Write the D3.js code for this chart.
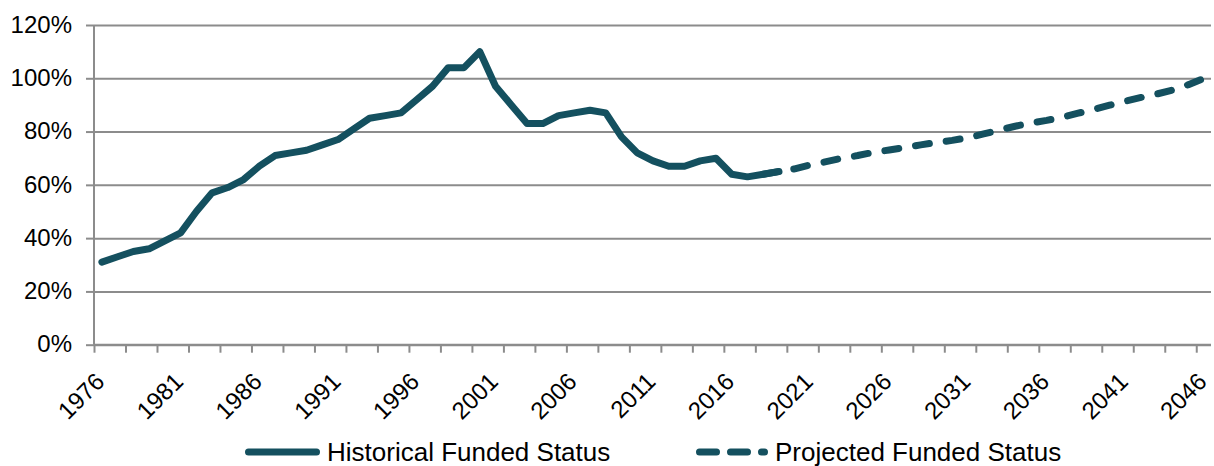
<!DOCTYPE html>
<html>
<head>
<meta charset="utf-8">
<script src="https://cdn.jsdelivr.net/npm/d3@7"></script>
<style>
  html, body { margin: 0; padding: 0; background: #fff; }
  svg { display: block; }
  text { font-family: "Liberation Sans", Arial, sans-serif; fill: #000; }
</style>
</head>
<body>
<svg id="chart" width="1214" height="466"></svg>
<script>
// ---- Data ----
const years = d3.range(1976, 2047);            // categories 1976..2046
const histYears = d3.range(1976, 2020);        // 1976..2019
const histValues = [31, 33, 35, 36, 39, 42, 50, 57, 59, 62,
                    67, 71, 72, 73, 75, 77, 81, 85, 86, 87,
                    92, 97, 104, 104, 110, 97, 90, 83, 83, 86,
                    87, 88, 87, 78, 72, 69, 67, 67, 69, 70,
                    64, 63, 64, 65];
const projYears = d3.range(2018, 2047);        // 2018..2046
const projValues = [64, 65, 66, 67.5, 68.7, 70, 71, 72.2, 73.1, 74,
                    75, 75.9, 76.7, 77.7, 79.1, 80.6, 82, 83.2, 84.2, 85.4,
                    86.9, 88.3, 89.9, 91.4, 92.8, 94.1, 95.6, 97.6, 100];
const yTicks = [0, 20, 40, 60, 80, 100, 120];
const labelYears = d3.range(1976, 2047, 5);
const seriesNames = ["Historical Funded Status", "Projected Funded Status"];

(function () {
// ---- Layout ----
const svg = d3.select("#chart");
const mLeft = 94, mRight = 1212, mTop = 25, mBottom = 344.7;
const color = "#14505f";
const gridColor = "#8c8c8c";

const x = d3.scaleBand().domain(years).range([mLeft, mRight]).padding(0);
const xc = d => x(d) + x.bandwidth() / 2;
const y = d3.scaleLinear().domain([0, 120]).range([mBottom, mTop]);
const xi = d3.scaleLinear().domain([0, years.length]).range([mLeft, mRight]);

// gridlines
const grid = svg.append("g").attr("transform", `translate(${mLeft},0)`)
  .call(d3.axisLeft(y).tickValues(yTicks).tickSize(-(mRight - 1 - mLeft)).tickFormat(""));
grid.select(".domain").remove();
grid.selectAll("line").attr("stroke", gridColor).attr("stroke-width", 2);

// y axis
const yAxis = svg.append("g").attr("transform", `translate(${mLeft},0)`)
  .call(d3.axisLeft(y).tickValues(yTicks).tickSize(8).tickPadding(14).tickFormat(d => d + "%"));
yAxis.select(".domain").attr("stroke", gridColor).attr("stroke-width", 2).attr("d", `M0,${y(120)}V${y(0)}`);
yAxis.selectAll("line").attr("stroke", gridColor).attr("stroke-width", 2);
yAxis.selectAll("text").style("font-size", "24px").attr("dy", "0.3em");

// x axis line + ticks every 2 categories
const tickIdx = d3.range(0, years.length, 2);
const xAxis = svg.append("g").attr("transform", `translate(0,${mBottom})`)
  .call(d3.axisBottom(xi).tickValues(tickIdx).tickSize(8).tickFormat(""));
xAxis.select(".domain").attr("stroke", gridColor).attr("stroke-width", 2).attr("d", `M${mLeft},0H${mRight - 1}`);
xAxis.selectAll("line").attr("stroke", gridColor).attr("stroke-width", 2);

// x labels
svg.append("g").selectAll("text").data(labelYears).join("text")
  .attr("text-anchor", "end")
  .attr("transform", d => `translate(${xc(d) + 4},${383}) rotate(-45)`)
  .style("font-size", "24px")
  .text(d => d);

// lines
const line = d3.line().x(d => xc(d[0])).y(d => y(d[1]));
svg.append("path")
  .datum(d3.zip(projYears, projValues))
  .attr("d", line).attr("fill", "none")
  .attr("stroke", color).attr("stroke-width", 7)
  .attr("stroke-linecap", "round").attr("stroke-linejoin", "round")
  .attr("stroke-dasharray", "14,17");
svg.append("path")
  .datum(d3.zip(histYears, histValues))
  .attr("d", line).attr("fill", "none")
  .attr("stroke", color).attr("stroke-width", 7)
  .attr("stroke-linecap", "round").attr("stroke-linejoin", "round");

// legend
const lg = svg.append("g");
lg.append("line").attr("x1", 248.5).attr("x2", 316.5).attr("y1", 452).attr("y2", 452)
  .attr("stroke", color).attr("stroke-width", 7).attr("stroke-linecap", "round");
lg.append("text").attr("x", 327).attr("y", 461).style("font-size", "26px").text(seriesNames[0]);
lg.append("line").attr("x1", 699.5).attr("x2", 764.5).attr("y1", 452).attr("y2", 452)
  .attr("stroke", color).attr("stroke-width", 7).attr("stroke-linecap", "round")
  .attr("stroke-dasharray", "17,14");
lg.append("text").attr("x", 775).attr("y", 461).style("font-size", "26px").text(seriesNames[1]);
})();
</script>
</body>
</html>
